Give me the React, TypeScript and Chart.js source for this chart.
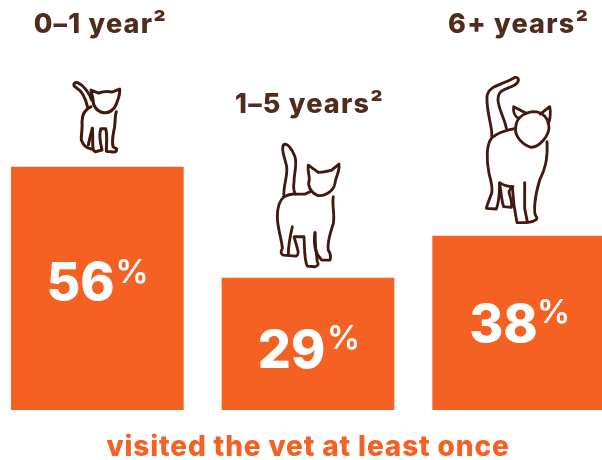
import { useEffect, useRef } from "react";
import { Chart, registerables } from "chart.js";

Chart.register(...registerables);

// Age groups as printed above each cat
const categories = ["0–1 year²", "1–5 years²", "6+ years²"];
// Percentages printed on the bars
const printedPercent = [56, 29, 38];
// Bar heights as drawn in the picture (on the scale where the first bar is 56)
const barHeights = [56, 30.4, 40.1];
const caption = "visited the vet at least once";

const ORANGE = "#F46122";
const BROWN = "#4F2C1E";
const CAT_STROKE = "#41190F";
const FONT = "Inter";

// Where each bar's annotations sit relative to that bar
const annotations = [
  { labelDx: 3, labelY: 33, numDx: -16.8, numDy: 133, pctDx: 34.7, pctDy: 116 },
  { labelDx: 1.5, labelY: 113, numDx: -16.5, numDy: 90, pctDx: 35.5, pctDy: 71 },
  { labelDx: 0, labelY: 33, numDx: -15.2, numDy: 106, pctDx: 34.8, pctDy: 87 },
];

// Cat outlines, traced at 3x, with the point on each bar's top edge they stand over
const cats = [
  {
    anchorX: 291,
    anchorY: 501,
    width: 9,
    paths: [
      "M274 300 C268 280 250 256 232 248 C220 245 216 256 228 263 C245 273 256 295 262 322",
      "M272 270 L295 279 Q315 272 335 276 L358 267 C360 285 352 300 348 312 C342 330 325 340 310 338 C290 335 278 318 278 300 C278 290 272 280 272 270 Z",
      "M272 320 C255 328 245 345 245 365 C247 385 242 405 243 420 C248 435 258 445 273 447",
      "M264 435 C268 415 272 400 276 385",
      "M348 335 C342 350 347 370 340 395 C336 415 336 430 338 440 L349 447 Q350 456 340 456 L318 454 C318 430 322 405 316 386 L302 386 C296 400 300 430 305 450 L285 455 Q278 452 278 445 C276 425 278 400 276 385",
    ],
  },
  {
    anchorX: 264,
    anchorY: 594,
    width: 8.5,
    paths: [
      "M192 350 C188 320 204 290 200 260 C196 235 182 210 190 195 C200 185 215 205 225 230 C232 255 222 280 222 305 C220 320 222 335 226 342",
      "M265 255 L295 277 Q320 275 335 270 L357 252 C360 275 345 295 345 310 C340 335 310 352 290 345 C270 335 262 315 268 298 C268 285 262 270 265 255 Z",
      "M192 350 C180 360 172 380 172 410 C172 445 185 475 187 505 Q178 520 190 525 L228 528 C235 525 236 515 232 505 C228 490 225 480 222 470 L252 470 C254 500 252 540 262 558 L285 560 Q300 555 292 545 C288 520 285 490 285 458",
      "M192 350 Q210 340 226 342 L255 342 L270 335",
      "M217 440 C210 470 205 495 205 522",
      "M285 458 C280 490 285 520 305 540 L330 540 Q335 525 325 510 C322 495 330 460 340 430 C345 400 335 375 340 350",
    ],
  },
  {
    anchorX: 267,
    anchorY: 708,
    width: 8.5,
    paths: [
      "M186 408 C190 385 170 340 172 290 C175 255 220 255 255 232 C270 230 270 245 255 255 C230 270 205 265 205 300 C207 330 225 355 230 385",
      "M258 385 C258 360 275 340 310 335 C340 335 358 355 358 385 C355 410 330 440 305 442 C280 435 255 410 258 385 Z",
      "M268 355 C255 350 250 335 252 320 L290 340",
      "M332 342 L360 320 C365 340 360 365 355 370",
      "M258 385 C230 390 200 400 185 415 C170 435 170 480 178 520 C185 545 190 565 186 580 Q172 615 170 625 L200 627 C210 600 210 570 210 548 C220 555 235 560 250 560",
      "M210 550 C215 580 215 600 222 620 L245 622 C250 610 240 590 238 575 L245 562",
      "M248 560 C250 600 255 635 262 668 L290 668 C320 665 325 655 320 650 C310 640 315 590 330 540 C345 510 355 480 352 425",
      "M285 548 L285 625 L293 665",
    ],
  },
];

const annotationPlugin = {
  id: "annotationPlugin",
  beforeDraw(chart: any) {
    // The caption's font runs wider than the closest installed face
    chart.ctx.letterSpacing = "0.85px";
  },
  afterDatasetsDraw(chart: any) {
    const { ctx } = chart;
    const bars = chart.getDatasetMeta(0).data;
    bars.forEach((bar: any, i: number) => {
      const a = annotations[i];
      const cat = cats[i];
      ctx.save();
      // Cat standing over the bar
      ctx.save();
      ctx.translate(bar.x - cat.anchorX / 3, bar.y - cat.anchorY / 3);
      ctx.scale(1 / 3, 1 / 3);
      ctx.strokeStyle = CAT_STROKE;
      ctx.lineWidth = cat.width;
      ctx.lineJoin = "round";
      ctx.lineCap = "round";
      cat.paths.forEach((d) => ctx.stroke(new Path2D(d)));
      ctx.restore();
      // Age label
      ctx.textAlign = "center";
      ctx.textBaseline = "alphabetic";
      ctx.fillStyle = BROWN;
      ctx.font = `800 27px ${FONT}`;
      ctx.letterSpacing = "1.2px";
      ctx.fillText(categories[i], bar.x + a.labelDx, a.labelY);
      // Percentage
      ctx.letterSpacing = "0px";
      ctx.fillStyle = "#FFFFFF";
      ctx.font = `800 52px ${FONT}`;
      ctx.fillText(String(printedPercent[i]), bar.x + a.numDx, bar.y + a.numDy);
      ctx.font = `600 33px ${FONT}`;
      ctx.fillText("%", bar.x + a.pctDx, bar.y + a.pctDy);
      ctx.restore();
    });
  },
};

export default function App() {
  const ref = useRef<HTMLCanvasElement>(null);
  useEffect(() => {
    const chart = new Chart(ref.current as HTMLCanvasElement, {
      type: "bar",
      data: {
        labels: categories,
        datasets: [
          {
            data: barHeights,
            backgroundColor: ORANGE,
            borderWidth: 0,
            barThickness: 172,
          },
        ],
      },
      options: {
        animation: false,
        responsive: false,
        layout: { padding: 0 },
        scales: {
          x: { display: false },
          y: { display: false, min: 0, max: 94.5 },
        },
        plugins: {
          legend: { display: false },
          tooltip: { enabled: false },
          title: {
            display: true,
            position: "bottom",
            text: caption,
            color: ORANGE,
            font: { family: FONT, size: 28, weight: "800", lineHeight: 1 },
            padding: { top: 24, bottom: -2 },
          },
        },
      },
      plugins: [annotationPlugin],
    } as any);
    return () => chart.destroy();
  }, []);
  return (
    <div style={{ position: "absolute", left: 0, top: 0, width: 602, height: 460, overflow: "hidden", background: "#fff" }}>
      <canvas ref={ref} width={632} height={460} style={{ display: "block", position: "absolute", left: -8, top: 0 }} />
    </div>
  );
}
